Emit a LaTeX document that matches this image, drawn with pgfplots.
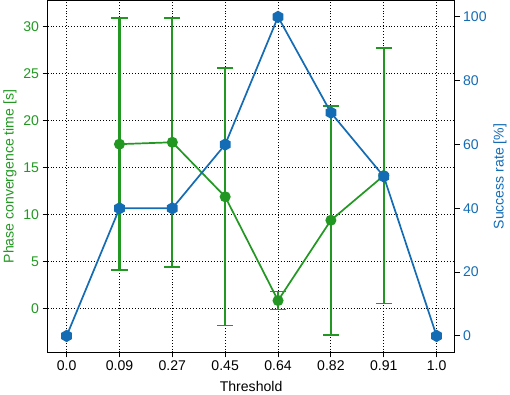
\documentclass[border=0pt]{standalone}
\usepackage{pgfplots}
\pgfplotsset{compat=1.18}
\usepackage{fontspec}
\setmainfont{Liberation Sans}
\definecolor{cgreen}{RGB}{34,152,34}
\definecolor{cblue}{RGB}{20,108,180}
\pgfdeclareplotmark{hexagon}{%
  \pgfpathmoveto{\pgfqpointpolar{90}{\pgfplotmarksize}}%
  \pgfpathlineto{\pgfqpointpolar{150}{\pgfplotmarksize}}%
  \pgfpathlineto{\pgfqpointpolar{210}{\pgfplotmarksize}}%
  \pgfpathlineto{\pgfqpointpolar{270}{\pgfplotmarksize}}%
  \pgfpathlineto{\pgfqpointpolar{330}{\pgfplotmarksize}}%
  \pgfpathlineto{\pgfqpointpolar{30}{\pgfplotmarksize}}%
  \pgfpathclose
  \pgfusepathqfillstroke}
\begin{document}
\begin{tikzpicture}
\pgfplotsset{every axis/.append style={font=\fontsize{14}{17}\selectfont},
  /pgf/number format/assume math mode=true}
\begin{axis}[
  width=405pt, height=350pt, scale only axis,
  xmin=-0.36, xmax=7.34, ymin=-4.67, ymax=32.78,
  xtick={0,...,7}, xticklabels={0.0,0.09,0.27,0.45,0.64,0.82,0.91,1.0},
  ytick={0,5,...,30},
  xtick pos=bottom, ytick pos=left, tick align=outside,
  major tick length=5pt,
  tick style={black, line width=0.9pt},
  axis line style={line width=1.3pt},
  grid=major,
  major grid style={black, line width=0.9pt, dash pattern=on 0.9pt off 2pt},
  yticklabel style={text=cgreen},
  ylabel={Phase convergence time [s]},
  ylabel style={text=cgreen},
  xlabel={Threshold},
  xlabel style={yshift=-3pt},
]
\addplot[cgreen, line width=1.7pt, mark=*, mark size=4.6pt, mark options={fill=cgreen},
  error bars/.cd, y dir=both, y explicit, error mark=|,
  error bar style={line width=2.1pt, cgreen},
  error mark options={cgreen, line width=1.7pt, mark size=8pt}]
coordinates {
  (1,17.5)  +- (0,13.4)
  (2,17.7)  +- (0,13.25)
  (3,11.9)  +- (0,13.7)
  (4,0.85)  +- (0,0.95)
  (5,9.4)   +- (0,12.2)
  (6,14.15) +- (0,13.6)
};
\end{axis}
\begin{axis}[
  width=405pt, height=350pt, scale only axis,
  xmin=-0.36, xmax=7.34, ymin=-5.15, ymax=105.1,
  axis x line=none, axis y line*=right,
  ytick={0,20,...,100},
  tick align=outside, major tick length=5pt,
  tick style={black, line width=0.9pt},
  axis line style={line width=1.3pt},
  yticklabel style={text=cblue},
  ylabel={Success rate [\%]},
  ylabel style={text=cblue},
]
\addplot[cblue, line width=1.7pt, mark=hexagon, mark size=5.2pt, mark options={fill=cblue}]
coordinates {(0,0) (1,40) (2,40) (3,60) (4,100) (5,70) (6,50) (7,0)};
\end{axis}
\end{tikzpicture}
\end{document}
